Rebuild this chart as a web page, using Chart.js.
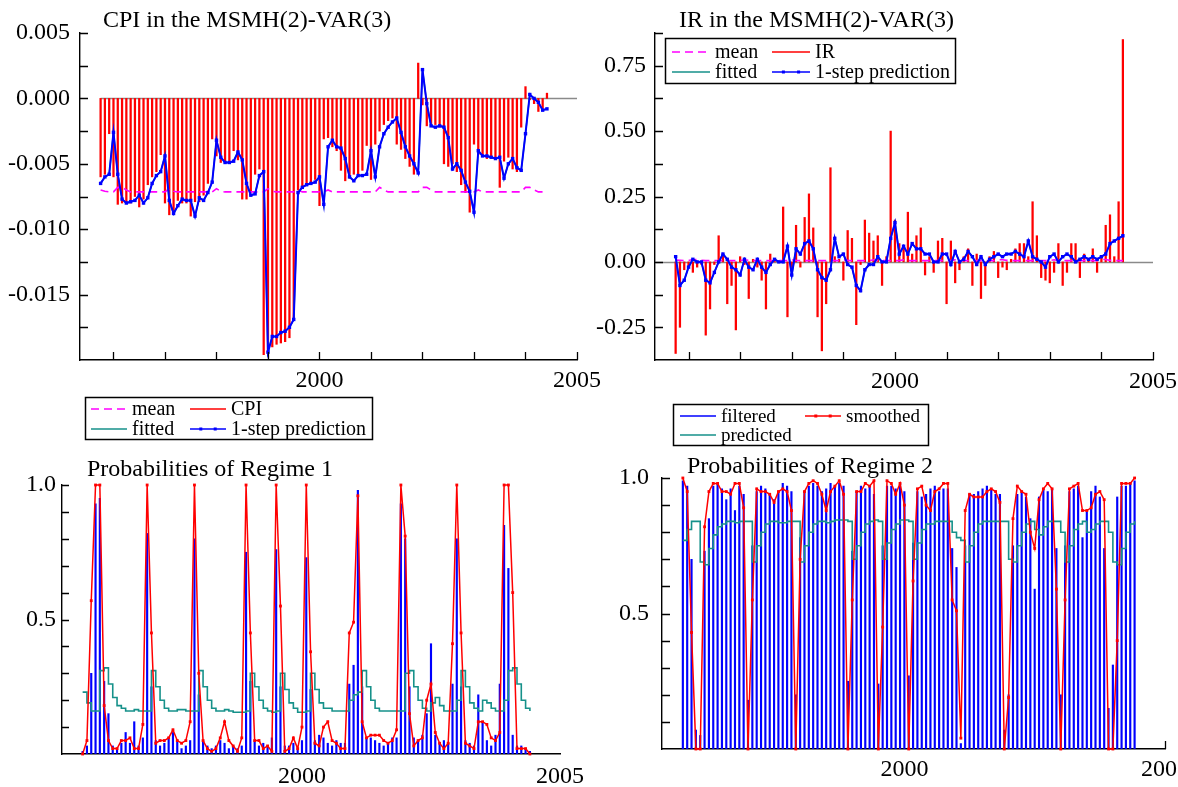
<!DOCTYPE html>
<html>
<head>
<meta charset="utf-8">
<script src="https://cdn.jsdelivr.net/npm/chart.js@4.4.0/dist/chart.umd.min.js"></script>
<style>
  html, body { margin: 0; padding: 0; background: #fff; }
  body { width: 1178px; height: 787px; position: relative; overflow: hidden; }
  canvas { position: absolute; }
</style>
</head>
<body>
<canvas id="cpiChart" width="620" height="450" style="left:0;top:0;width:620px;height:450px"></canvas>
<canvas id="irChart" width="588" height="395" style="left:590px;top:0;width:588px;height:395px"></canvas>
<canvas id="reg1Chart" width="590" height="337" style="left:0;top:450px;width:590px;height:337px"></canvas>
<canvas id="reg2Chart" width="588" height="392" style="left:590px;top:395px;width:588px;height:392px"></canvas>
<script>
// monthly observations, Oct 1995 .. Jun 2004
const startYear = 1995.75;
const yearTicks = [1996, 1997, 1998, 1999, 2000, 2001, 2002, 2003, 2004, 2005];
const labelledYears = [2000, 2005];

const cpiTicks = [-0.0175, -0.015, -0.0125, -0.01, -0.0075, -0.005, -0.0025, 0, 0.0025, 0.005];
const irTicks = [-0.25, -0.125, 0, 0.125, 0.25, 0.375, 0.5, 0.625, 0.75, 0.875];
const probTicks = [0.1, 0.2, 0.3, 0.4, 0.5, 0.6, 0.7, 0.8, 0.9, 1.0];

const cpi = [
  -0.0060, -0.0058, -0.0027, -0.0060, -0.0081, -0.0080, -0.0079, -0.0080, -0.0075, -0.0083,
  -0.0077, -0.0066, -0.0060, -0.0056, -0.0043, -0.0080, -0.0089, -0.0087, -0.0078, -0.0080,
  -0.0080, -0.0090, -0.0079, -0.0079, -0.0074, -0.0065, -0.0031, -0.0044, -0.0049, -0.0049,
  -0.0048, -0.0040, -0.0047, -0.0077, -0.0077, -0.0072, -0.0058, -0.0054, -0.0196, -0.0194,
  -0.0190, -0.0188, -0.0187, -0.0186, -0.0183, -0.0169, -0.0070, -0.0067, -0.0066, -0.0064,
  -0.0062, -0.0082, -0.0031, -0.0030, -0.0037, -0.0040, -0.0055, -0.0063, -0.0061, -0.0058,
  -0.0059, -0.0055, -0.0036, -0.0062, -0.0035, -0.0025, -0.0020, -0.0017, -0.0015, -0.0035,
  -0.0039, -0.0046, -0.0052, -0.0058, 0.0027, -0.0005, -0.0021, -0.0021, -0.0020, -0.0022,
  -0.0050, -0.0052, -0.0050, -0.0056, -0.0066, -0.0072, -0.0087, -0.0035, -0.0043, -0.0044,
  -0.0046, -0.0045, -0.0046, -0.0068, -0.0048, -0.0045, -0.0054, -0.0056, -0.0022, 0.0009,
  -0.0001, -0.0004, -0.0010, -0.0009, 0.0004
];
const cpiPrediction = [
  -0.0065, -0.0060, -0.0058, -0.0026, -0.0058, -0.0077, -0.0080, -0.0079, -0.0078, -0.0074,
  -0.0080, -0.0076, -0.0065, -0.0059, -0.0056, -0.0044, -0.0078, -0.0088, -0.0082, -0.0077,
  -0.0078, -0.0078, -0.0090, -0.0076, -0.0078, -0.0072, -0.0064, -0.0032, -0.0045, -0.0049,
  -0.0049, -0.0048, -0.0041, -0.0047, -0.0065, -0.0074, -0.0073, -0.0059, -0.0056, -0.0194,
  -0.0182, -0.0182, -0.0179, -0.0178, -0.0175, -0.0169, -0.0072, -0.0068, -0.0066, -0.0065,
  -0.0064, -0.0060, -0.0081, -0.0037, -0.0032, -0.0037, -0.0038, -0.0046, -0.0060, -0.0063,
  -0.0059, -0.0059, -0.0058, -0.0040, -0.0060, -0.0037, -0.0027, -0.0022, -0.0018, -0.0015,
  -0.0026, -0.0037, -0.0044, -0.0050, -0.0057, 0.0022, -0.0004, -0.0021, -0.0022, -0.0021,
  -0.0022, -0.0030, -0.0054, -0.0050, -0.0055, -0.0064, -0.0071, -0.0087, -0.0040, -0.0044,
  -0.0044, -0.0045, -0.0046, -0.0045, -0.0061, -0.0050, -0.0046, -0.0053, -0.0055, -0.0027,
  0.0003, 0.0000, -0.0003, -0.0009, -0.0008
];
// fitted values sit exactly under the 1-step prediction in the picture
const cpiFitted = cpiPrediction;
const cpiMean = [
  -0.0070, -0.0071, -0.00715, -0.00715, -0.0068, -0.0068, -0.0070, -0.00715, -0.00715, -0.00715,
  -0.00715, -0.00715, -0.00715, -0.00715, -0.00715, -0.00715, -0.0069, -0.0071, -0.00715, -0.00715,
  -0.00715, -0.00715, -0.00715, -0.00715, -0.00715, -0.00715, -0.00715, -0.0069, -0.0071, -0.00715,
  -0.00715, -0.00715, -0.00715, -0.00715, -0.00715, -0.00715, -0.00715, -0.00715, -0.00715, -0.0069,
  -0.0071, -0.00715, -0.00715, -0.00715, -0.00715, -0.00715, -0.0070, -0.00715, -0.00715, -0.00715,
  -0.00715, -0.00715, -0.00715, -0.0070, -0.00715, -0.00715, -0.00715, -0.00715, -0.00715, -0.00715,
  -0.00715, -0.00715, -0.00715, -0.00715, -0.00715, -0.0068, -0.0070, -0.00715, -0.00715, -0.00715,
  -0.00715, -0.00715, -0.00715, -0.00715, -0.00715, -0.0068, -0.0068, -0.0070, -0.00715, -0.00715,
  -0.00715, -0.00715, -0.00715, -0.00715, -0.00715, -0.00715, -0.00715, -0.00715, -0.0070, -0.00715,
  -0.00715, -0.00715, -0.00715, -0.00715, -0.00715, -0.00715, -0.00715, -0.00715, -0.00715, -0.0068,
  -0.0068, -0.0070, -0.00715, -0.00715, -0.00715
];

const ir = [
  -0.35, -0.25, -0.03, -0.02, -0.04, -0.02, -0.01, -0.28, -0.18, -0.01,
  0.10, 0.03, -0.16, -0.09, -0.26, 0.02, -0.01, -0.14, 0.01, -0.02,
  -0.07, -0.18, 0.03, 0.01, 0.00, 0.21, -0.21, -0.03, 0.14, -0.02,
  0.17, 0.26, 0.13, -0.21, -0.34, -0.16, 0.36, 0.02, 0.01, -0.07,
  0.12, 0.09, -0.24, -0.01, 0.16, 0.11, 0.08, 0.10, -0.09, 0.02,
  0.50, 0.16, 0.07, 0.06, 0.19, 0.03, 0.10, 0.13, -0.05, 0.02,
  -0.04, 0.08, 0.09, -0.16, 0.08, -0.08, -0.03, 0.02, 0.05, -0.09,
  0.03, -0.14, -0.09, 0.02, 0.04, -0.06, -0.02, -0.03, 0.01, 0.05,
  0.07, 0.07, 0.02, 0.23, 0.10, -0.06, -0.07, -0.08, -0.04, 0.07,
  -0.09, -0.04, 0.07, 0.07, -0.06, 0.03, 0.01, 0.05, -0.04, 0.02,
  0.14, 0.18, 0.02, 0.23, 0.85
];
const irPrediction = [
  0.02, -0.09, -0.07, -0.02, 0.01, 0.00, 0.00, -0.07, -0.08, -0.04,
  0.00, 0.03, 0.01, -0.02, -0.03, -0.05, 0.01, -0.02, -0.03, 0.01,
  -0.02, -0.04, -0.01, 0.01, 0.00, 0.00, 0.06, -0.05, 0.05, 0.03,
  0.07, 0.08, 0.05, -0.03, -0.06, -0.07, -0.03, 0.09, 0.02, 0.03,
  -0.01, -0.02, -0.09, -0.11, -0.03, -0.01, -0.01, 0.02, 0.00, 0.00,
  0.09, 0.15, 0.03, 0.06, 0.03, 0.07, 0.05, 0.05, 0.03, 0.03,
  0.00, 0.00, 0.03, 0.03, -0.01, 0.04, 0.00, 0.01, 0.04, 0.02,
  -0.01, 0.02, -0.01, 0.01, 0.02, 0.03, 0.02, 0.03, 0.03, 0.04,
  0.03, 0.02, 0.08, 0.02, 0.01, 0.00, -0.02, 0.02, 0.03, 0.00,
  0.02, 0.03, 0.02, 0.00, 0.01, 0.02, 0.01, 0.02, 0.01, 0.02,
  0.03, 0.07, 0.08, 0.09, 0.10
];
const irFitted = irPrediction;
const irMean = [
  0.007, 0.006, 0.005, 0.005, 0.009, 0.009, 0.006, 0.005, 0.005, 0.005,
  0.005, 0.005, 0.005, 0.005, 0.005, 0.005, 0.008, 0.006, 0.005, 0.005,
  0.005, 0.005, 0.005, 0.005, 0.005, 0.005, 0.005, 0.008, 0.006, 0.005,
  0.005, 0.005, 0.005, 0.005, 0.005, 0.005, 0.005, 0.005, 0.005, 0.008,
  0.006, 0.005, 0.005, 0.005, 0.005, 0.005, 0.008, 0.005, 0.005, 0.005,
  0.005, 0.005, 0.005, 0.008, 0.005, 0.005, 0.005, 0.005, 0.005, 0.005,
  0.005, 0.005, 0.005, 0.005, 0.005, 0.008, 0.006, 0.005, 0.005, 0.005,
  0.005, 0.005, 0.005, 0.005, 0.005, 0.008, 0.008, 0.006, 0.005, 0.005,
  0.005, 0.005, 0.005, 0.005, 0.005, 0.005, 0.005, 0.005, 0.008, 0.005,
  0.005, 0.005, 0.005, 0.005, 0.005, 0.005, 0.005, 0.005, 0.005, 0.009,
  0.009, 0.006, 0.005, 0.005, 0.005
];

const reg1Filtered = [
  0.01, 0.03, 0.30, 0.93, 0.95, 0.27, 0.15, 0.03, 0.02, 0.04,
  0.08, 0.04, 0.12, 0.03, 0.06, 0.82, 0.25, 0.05, 0.03, 0.04,
  0.06, 0.08, 0.05, 0.02, 0.03, 0.05, 0.80, 0.22, 0.05, 0.03,
  0.02, 0.03, 0.05, 0.04, 0.02, 0.03, 0.02, 0.03, 0.75, 0.27,
  0.05, 0.03, 0.04, 0.03, 0.06, 0.76, 0.25, 0.03, 0.03, 0.04,
  0.02, 0.05, 0.73, 0.24, 0.05, 0.07, 0.06, 0.04, 0.03, 0.05,
  0.04, 0.04, 0.26, 0.33, 0.98, 0.25, 0.06, 0.06, 0.05, 0.04,
  0.03, 0.04, 0.06, 0.06, 0.93, 0.80, 0.25, 0.06, 0.05, 0.07,
  0.15, 0.41, 0.07, 0.04, 0.05, 0.04, 0.26, 0.80, 0.25, 0.05,
  0.04, 0.03, 0.22, 0.12, 0.05, 0.03, 0.07, 0.26, 0.85, 0.69,
  0.07, 0.03, 0.03, 0.02, 0.01
];
const reg1Smoothed = [
  0.00, 0.05, 0.57, 1.00, 1.00, 0.18, 0.05, 0.02, 0.02, 0.05,
  0.05, 0.06, 0.02, 0.02, 0.11, 1.00, 0.45, 0.04, 0.05, 0.05,
  0.06, 0.09, 0.05, 0.04, 0.05, 0.12, 1.00, 0.30, 0.05, 0.02,
  0.01, 0.02, 0.06, 0.12, 0.05, 0.03, 0.01, 0.06, 1.00, 0.45,
  0.05, 0.05, 0.02, 0.03, 0.01, 1.00, 0.55, 0.01, 0.02, 0.06,
  0.02, 0.10, 1.00, 0.38, 0.04, 0.03, 0.10, 0.12, 0.05, 0.04,
  0.02, 0.02, 0.45, 0.49, 0.96, 0.12, 0.06, 0.07, 0.07, 0.07,
  0.05, 0.04, 0.05, 0.09, 1.00, 0.81, 0.15, 0.03, 0.05, 0.06,
  0.20, 0.26, 0.08, 0.04, 0.02, 0.04, 0.41, 1.00, 0.45, 0.04,
  0.03, 0.02, 0.12, 0.12, 0.11, 0.06, 0.05, 0.08, 1.00, 1.00,
  0.60, 0.02, 0.02, 0.02, 0.00
];
const reg1Predicted = [
  0.23, 0.19, 0.16, 0.16, 0.31, 0.32, 0.26, 0.21, 0.18, 0.17,
  0.16, 0.16, 0.165, 0.16, 0.16, 0.16, 0.31, 0.25, 0.20, 0.17,
  0.16, 0.16, 0.165, 0.165, 0.16, 0.16, 0.16, 0.31, 0.25, 0.20,
  0.17, 0.16, 0.16, 0.165, 0.16, 0.155, 0.155, 0.155, 0.16, 0.30,
  0.25, 0.20, 0.17, 0.16, 0.155, 0.16, 0.30, 0.24, 0.19, 0.17,
  0.155, 0.155, 0.16, 0.30, 0.24, 0.19, 0.17, 0.17, 0.16, 0.16,
  0.16, 0.16, 0.20, 0.22, 0.23, 0.31, 0.25, 0.20, 0.17, 0.16,
  0.16, 0.16, 0.16, 0.16, 0.16, 0.30, 0.31, 0.25, 0.20, 0.17,
  0.16, 0.19, 0.21, 0.18, 0.16, 0.16, 0.16, 0.20, 0.31, 0.25,
  0.19, 0.17, 0.16, 0.20, 0.19, 0.17, 0.16, 0.16, 0.20, 0.31,
  0.32, 0.26, 0.20, 0.17, 0.16
];

const reg2Filtered = [
  0.99, 0.97, 0.70, 0.07, 0.05, 0.73, 0.85, 0.97, 0.98, 0.96,
  0.92, 0.96, 0.88, 0.97, 0.94, 0.18, 0.75, 0.95, 0.97, 0.96,
  0.94, 0.92, 0.95, 0.98, 0.97, 0.95, 0.20, 0.78, 0.95, 0.97,
  0.98, 0.97, 0.95, 0.96, 0.98, 0.97, 0.98, 0.97, 0.25, 0.73,
  0.95, 0.97, 0.96, 0.97, 0.94, 0.24, 0.75, 0.97, 0.97, 0.96,
  0.98, 0.95, 0.27, 0.76, 0.95, 0.93, 0.94, 0.96, 0.97, 0.95,
  0.96, 0.96, 0.74, 0.67, 0.02, 0.75, 0.94, 0.94, 0.95, 0.96,
  0.97, 0.96, 0.94, 0.94, 0.07, 0.20, 0.75, 0.94, 0.95, 0.93,
  0.85, 0.59, 0.93, 0.96, 0.95, 0.96, 0.74, 0.20, 0.75, 0.95,
  0.96, 0.97, 0.78, 0.88, 0.95, 0.97, 0.93, 0.74, 0.15, 0.31,
  0.93, 0.97, 0.97, 0.98, 0.99
];
const reg2Smoothed = [
  1.00, 0.95, 0.43, 0.00, 0.00, 0.82, 0.95, 0.98, 0.98, 0.95,
  0.95, 0.94, 0.98, 0.98, 0.89, 0.00, 0.55, 0.96, 0.95, 0.95,
  0.94, 0.91, 0.95, 0.96, 0.95, 0.88, 0.00, 0.70, 0.95, 0.98,
  0.99, 0.98, 0.94, 0.88, 0.95, 0.97, 0.99, 0.94, 0.00, 0.55,
  0.95, 0.95, 0.98, 0.97, 0.99, 0.00, 0.45, 0.99, 0.98, 0.94,
  0.98, 0.90, 0.00, 0.62, 0.96, 0.97, 0.90, 0.88, 0.95, 0.96,
  0.98, 0.98, 0.55, 0.51, 0.04, 0.88, 0.94, 0.93, 0.93, 0.93,
  0.95, 0.96, 0.95, 0.91, 0.00, 0.19, 0.85, 0.97, 0.95, 0.94,
  0.80, 0.74, 0.92, 0.96, 0.98, 0.96, 0.59, 0.00, 0.55, 0.96,
  0.97, 0.98, 0.88, 0.88, 0.89, 0.94, 0.95, 0.92, 0.00, 0.00,
  0.40, 0.98, 0.98, 0.98, 1.00
];
const reg2Predicted = [
  0.77, 0.81, 0.84, 0.84, 0.69, 0.68, 0.74, 0.79, 0.82, 0.83,
  0.84, 0.84, 0.835, 0.84, 0.84, 0.84, 0.69, 0.75, 0.80, 0.83,
  0.84, 0.84, 0.835, 0.835, 0.84, 0.84, 0.84, 0.69, 0.75, 0.80,
  0.83, 0.84, 0.84, 0.835, 0.84, 0.845, 0.845, 0.845, 0.84, 0.70,
  0.75, 0.80, 0.83, 0.84, 0.845, 0.84, 0.70, 0.76, 0.81, 0.83,
  0.845, 0.845, 0.84, 0.70, 0.76, 0.81, 0.83, 0.83, 0.84, 0.84,
  0.84, 0.84, 0.80, 0.78, 0.77, 0.69, 0.75, 0.80, 0.83, 0.84,
  0.84, 0.84, 0.84, 0.84, 0.84, 0.70, 0.69, 0.75, 0.80, 0.83,
  0.84, 0.81, 0.79, 0.82, 0.84, 0.84, 0.84, 0.80, 0.69, 0.75,
  0.81, 0.83, 0.84, 0.80, 0.81, 0.83, 0.84, 0.84, 0.80, 0.69,
  0.68, 0.74, 0.80, 0.83, 0.84
];

const dates = cpi.map((_, i) => startYear + i / 12);
const pts = arr => arr.map((v, i) => ({ x: dates[i], y: v }));

const serif = "'Liberation Serif', 'Times New Roman', serif";
const red = '#ff0000', blue = '#0000ff', teal = '#16918a', magenta = '#ff00ff';

// titles, inward tick marks, zero line and the boxed legends
const decor = {
  id: 'decor',
  beforeDatasetsDraw(chart, args, o) {
    if (!o.zeroLine) return;
    const { ctx, chartArea: a, scales: { x, y } } = chart;
    const py = Math.round(y.getPixelForValue(0)) + 0.5;
    const from = o.zeroFrom != null ? x.getPixelForValue(o.zeroFrom) : a.left;
    ctx.save();
    ctx.strokeStyle = '#8a8a8a';
    ctx.lineWidth = 1.3;
    ctx.beginPath();
    ctx.moveTo(from, py);
    ctx.lineTo(a.right, py);
    ctx.stroke();
    ctx.restore();
  },
  afterDraw(chart, args, o) {
    const { ctx, chartArea: a, scales: { x, y } } = chart;
    ctx.save();
    ctx.strokeStyle = '#000';
    ctx.lineWidth = 1.3;
    ctx.beginPath();
    (o.xTickValues || []).forEach(v => {
      const px = Math.round(x.getPixelForValue(v)) + 0.5;
      ctx.moveTo(px, a.bottom);
      ctx.lineTo(px, a.bottom - o.tickLen);
    });
    y.ticks.forEach(t => {
      const py = Math.round(y.getPixelForValue(t.value)) + 0.5;
      ctx.moveTo(a.left, py);
      ctx.lineTo(a.left + o.tickLen, py);
    });
    ctx.stroke();

    ctx.fillStyle = '#000';
    ctx.textAlign = 'left';
    ctx.textBaseline = 'middle';
    ctx.font = o.titleSize + 'px ' + serif;
    ctx.fillText(o.title, o.titleX, o.titleY);

    const lg = o.legend;
    if (lg) {
      ctx.strokeStyle = '#000';
      ctx.lineWidth = 1.5;
      ctx.strokeRect(lg.x + 0.5, lg.y + 0.5, lg.w, lg.h);
      ctx.font = lg.size + 'px ' + serif;
      lg.items.forEach(it => {
        const ds = chart.data.datasets[it.ds];
        const col = ds.borderColor || ds.backgroundColor;
        const x0 = lg.cols[it.col], y0 = lg.rows[it.row];
        ctx.strokeStyle = col;
        ctx.lineWidth = 1.6;
        ctx.setLineDash(ds.borderDash || []);
        ctx.beginPath();
        ctx.moveTo(x0, y0);
        ctx.lineTo(x0 + lg.sample, y0);
        ctx.stroke();
        ctx.setLineDash([]);
        if (ds.pointRadius) {
          ctx.fillStyle = col;
          [0.3, 0.7].forEach(f => ctx.fillRect(x0 + lg.sample * f - 1.5, y0 - 1.5, 3, 3));
        }
        ctx.fillStyle = '#000';
        ctx.fillText(ds.label, x0 + lg.sample + 5, y0 + 1);
      });
    }
    ctx.restore();
  }
};

function makeChart(id, datasets, o) {
  return new Chart(document.getElementById(id), {
    type: 'bar',
    data: { datasets },
    options: {
      responsive: false,
      animation: false,
      devicePixelRatio: 1,
      events: [],
      layout: { padding: { left: 0, right: o.padRight, top: o.padTop, bottom: 0 } },
      plugins: { legend: { display: false }, tooltip: { enabled: false }, decor: o.decor },
      scales: {
        x: {
          type: 'linear', min: 1995.35, max: 2005, offset: false,
          afterBuildTicks: s => { s.ticks = yearTicks.map(v => ({ value: v })); },
          afterFit: s => { s.height = o.xH; s.paddingLeft = 0; s.paddingRight = 0; },
          grid: { display: false, drawTicks: false },
          border: { display: true, color: '#000', width: 1.4 },
          ticks: {
            autoSkip: false, maxRotation: 0, padding: o.xPad, color: '#000',
            font: { family: serif, size: o.tickSize },
            callback: v => labelledYears.includes(v) ? String(v) : ''
          }
        },
        y: {
          min: o.yMin, max: o.yMax,
          afterBuildTicks: s => { s.ticks = o.yTicks.map(v => ({ value: v })); },
          afterFit: s => { s.width = o.yW; s.paddingTop = 0; s.paddingBottom = 0; },
          grid: { display: false, drawTicks: false },
          border: { display: true, color: '#000', width: 1.4 },
          ticks: {
            autoSkip: false, padding: o.yPad, color: '#000',
            font: { family: serif, size: o.tickSize },
            callback: o.yLabel
          }
        }
      }
    },
    plugins: [decor]
  });
}

const everyStep = (step, digits) => v => {
  const k = v / step;
  return Math.abs(k - Math.round(k)) < 1e-9 ? v.toFixed(digits) : '';
};

// CPI
makeChart('cpiChart', [
  { type: 'line', label: '1-step prediction', data: pts(cpiPrediction), borderColor: blue, backgroundColor: blue,
    borderWidth: 2, pointStyle: 'rect', pointRadius: 2.4, pointBorderWidth: 0, order: 1 },
  { type: 'line', label: 'fitted', data: pts(cpiFitted), borderColor: teal, borderWidth: 1.5,
    pointRadius: 0, order: 2 },
  { type: 'line', label: 'mean', data: pts(cpiMean), borderColor: magenta, borderWidth: 1.6,
    borderDash: [8, 5], pointRadius: 0, order: 3 },
  { type: 'bar', label: 'CPI', data: pts(cpi), backgroundColor: red, barThickness: 1.6, order: 4 }
], {
  padRight: 43, padTop: 33, xH: 90, yW: 80, xPad: 6, yPad: 10, tickSize: 24,
  yMin: -0.02, yMax: 0.005, yTicks: cpiTicks, yLabel: everyStep(0.005, 3),
  decor: {
    zeroLine: true, zeroFrom: startYear, xTickValues: yearTicks, tickLen: 8,
    title: 'CPI in the MSMH(2)-VAR(3)', titleX: 103, titleY: 21, titleSize: 24,
    legend: {
      x: 85, y: 397, w: 287, h: 42, cols: [91, 190], rows: [409, 429], sample: 36, size: 20,
      items: [{ ds: 2, col: 0, row: 0 }, { ds: 3, col: 1, row: 0 }, { ds: 1, col: 0, row: 1 }, { ds: 0, col: 1, row: 1 }]
    }
  }
});

// IR
makeChart('irChart', [
  { type: 'line', label: '1-step prediction', data: pts(irPrediction), borderColor: blue, backgroundColor: blue,
    borderWidth: 2, pointStyle: 'rect', pointRadius: 2.4, pointBorderWidth: 0, order: 1 },
  { type: 'line', label: 'fitted', data: pts(irFitted), borderColor: teal, borderWidth: 1.5,
    pointRadius: 0, order: 2 },
  { type: 'line', label: 'mean', data: pts(irMean), borderColor: magenta, borderWidth: 1.6,
    borderDash: [8, 5], pointRadius: 0, order: 3 },
  { type: 'bar', label: 'IR', data: pts(ir), backgroundColor: red, barThickness: 1.6, order: 4 }
], {
  padRight: 25, padTop: 33, xH: 35, yW: 65, xPad: 7, yPad: 9, tickSize: 24,
  yMin: -0.375, yMax: 0.875, yTicks: irTicks, yLabel: everyStep(0.25, 2),
  decor: {
    zeroLine: true, xTickValues: yearTicks, tickLen: 8,
    title: 'IR in the MSMH(2)-VAR(3)', titleX: 89, titleY: 21, titleSize: 24,
    legend: {
      x: 75, y: 38, w: 290, h: 45, cols: [82, 182], rows: [52, 72], sample: 38, size: 20,
      items: [{ ds: 2, col: 0, row: 0 }, { ds: 3, col: 1, row: 0 }, { ds: 1, col: 0, row: 1 }, { ds: 0, col: 1, row: 1 }]
    }
  }
});

// Regime 1
makeChart('reg1Chart', [
  { type: 'line', label: 'smoothed', data: pts(reg1Smoothed), borderColor: red, backgroundColor: red,
    borderWidth: 1.5, pointStyle: 'rect', pointRadius: 2, pointBorderWidth: 0, clip: false, order: 1 },
  { type: 'line', label: 'predicted', data: pts(reg1Predicted), borderColor: teal, borderWidth: 1.6,
    pointRadius: 0, stepped: true, order: 2 },
  { type: 'bar', label: 'filtered', data: pts(reg1Filtered), backgroundColor: blue, barThickness: 1.5, order: 3 }
], {
  padRight: 30, padTop: 35, xH: 33, yW: 62, xPad: 8, yPad: 6, tickSize: 24,
  yMin: 0, yMax: 1, yTicks: probTicks, yLabel: everyStep(0.5, 1),
  decor: {
    zeroLine: false, xTickValues: [], tickLen: 7,
    title: 'Probabilities of Regime 1', titleX: 87, titleY: 20, titleSize: 24
  }
});

// Regime 2
makeChart('reg2Chart', [
  { type: 'line', label: 'smoothed', data: pts(reg2Smoothed), borderColor: red, backgroundColor: red,
    borderWidth: 1.5, pointStyle: 'rect', pointRadius: 2, pointBorderWidth: 0, clip: false, order: 1 },
  { type: 'line', label: 'predicted', data: pts(reg2Predicted), borderColor: teal, borderWidth: 1.6,
    pointRadius: 0, stepped: true, order: 2 },
  { type: 'bar', label: 'filtered', data: pts(reg2Filtered), backgroundColor: blue, barThickness: 1.5, order: 3 }
], {
  padRight: 13, padTop: 83, xH: 38, yW: 72, xPad: 6, yPad: 13, tickSize: 24,
  yMin: 0, yMax: 1, yTicks: probTicks, yLabel: everyStep(0.5, 1),
  decor: {
    zeroLine: false, xTickValues: [2005], tickLen: 8,
    title: 'Probabilities of Regime 2', titleX: 97, titleY: 72, titleSize: 24,
    legend: {
      x: 83, y: 9, w: 255, h: 41, cols: [90, 215], rows: [21, 40], sample: 36, size: 19,
      items: [{ ds: 2, col: 0, row: 0 }, { ds: 0, col: 1, row: 0 }, { ds: 1, col: 0, row: 1 }]
    }
  }
});
</script>
</body>
</html>
